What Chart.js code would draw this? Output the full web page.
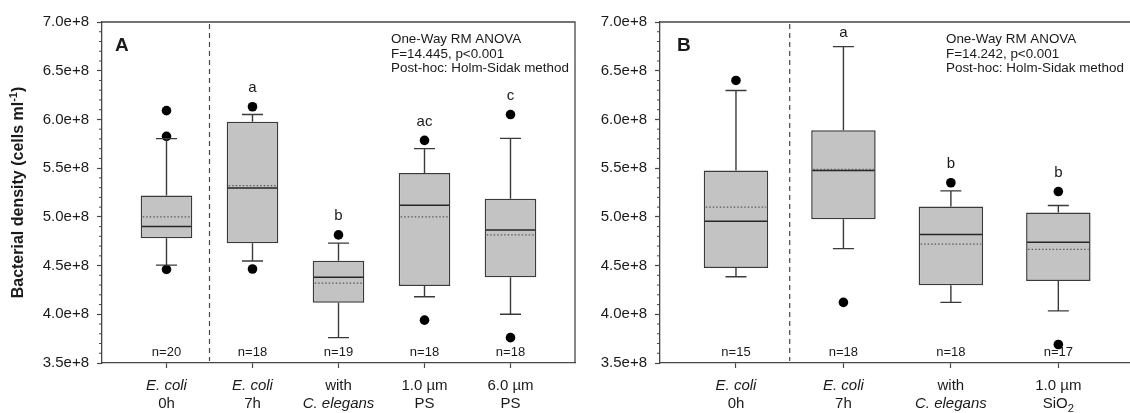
<!DOCTYPE html>
<html><head><meta charset="utf-8">
<script src="https://cdn.jsdelivr.net/npm/chart.js@4.4.1/dist/chart.umd.min.js"></script>
<style>
html,body{margin:0;padding:0;background:#fff;overflow:hidden;width:1130px;height:413px;position:relative;}
#wa{position:absolute;left:0;top:0;width:580px;height:413px;}
#wb{position:absolute;left:580px;top:0;width:570px;height:413px;}
canvas{display:block;}
</style></head><body>
<div id="wa"><canvas id="ca" width="580" height="413"></canvas></div>
<div id="wb"><canvas id="cb" width="570" height="413"></canvas></div>
<script>
// ---------- data (cells per ml) ----------
const yTickValues = [3.5e8, 4.0e8, 4.5e8, 5.0e8, 5.5e8, 6.0e8, 6.5e8, 7.0e8];

// Panel A
const categoriesA = ['*E. coli*|0h', '*E. coli*|7h', 'with|*C. elegans*', '1.0 µm|PS', '6.0 µm|PS'];
const whiskerLowA  = [4.505e8, 4.547e8, 3.76e8, 4.18e8, 4.00e8];
const q1A          = [4.78e8, 4.73e8, 4.118e8, 4.29e8, 4.38e8];
const medianA      = [4.90e8, 5.295e8, 4.38e8, 5.12e8, 4.866e8];
const meanA        = [5.00e8, 5.32e8, 4.32e8, 5.00e8, 4.815e8];
const q3A          = [5.22e8, 5.975e8, 4.55e8, 5.45e8, 5.185e8];
const whiskerHighA = [5.803e8, 6.05e8, 4.73e8, 5.70e8, 5.806e8];
const outliersA    = [[6.09e8, 5.826e8, 4.46e8], [6.13e8, 4.465e8], [4.815e8], [5.785e8, 3.94e8], [6.05e8, 3.76e8]];
const nA           = [20, 18, 19, 18, 18];
const lettersA     = ['', 'a', 'b', 'ac', 'c'];
const statsA       = ['One-Way RM ANOVA', 'F=14.445, p<0.001', 'Post-hoc: Holm-Sidak method'];

// Panel B
const categoriesB = ['*E. coli*|0h', '*E. coli*|7h', 'with|*C. elegans*', '1.0 µm|SiO_2'];
const whiskerLowB  = [4.385e8, 4.674e8, 4.122e8, 4.035e8];
const q1B          = [4.475e8, 4.976e8, 4.297e8, 4.341e8];
const medianB      = [4.955e8, 5.476e8, 4.82e8, 4.739e8];
const meanB        = [5.10e8, 5.487e8, 4.72e8, 4.667e8];
const q3B          = [5.476e8, 5.89e8, 5.106e8, 5.044e8];
const whiskerHighB = [6.297e8, 6.747e8, 5.267e8, 5.116e8];
const outliersB    = [[6.40e8], [4.122e8], [5.35e8], [5.26e8, 3.69e8]];
const nB           = [15, 18, 18, 17];
const lettersB     = ['', 'a', 'b', 'b'];
const statsB       = ['One-Way RM ANOVA', 'F=14.242, p<0.001', 'Post-hoc: Holm-Sidak method'];

// ---------- style ----------
const FONT = 'Arial, "Liberation Sans", Helvetica, sans-serif';
const AXIS = '#474747';
const TEXT = '#1a1a1a';
const BOX_FRAC = 0.6;
const CAP_W = 21;

function drawRich(ctx, str, cx, cy, size) {
  // '*...*' italic, '_x' subscript
  const segs = [];
  let italic = false, buf = '';
  for (let i = 0; i < str.length; i++) {
    const ch = str[i];
    if (ch === '*') { if (buf) segs.push({t: buf, it: italic, sub: false}); buf = ''; italic = !italic; }
    else if (ch === '_') { if (buf) segs.push({t: buf, it: italic, sub: false}); buf = ''; segs.push({t: str[i + 1], it: italic, sub: true}); i++; }
    else buf += ch;
  }
  if (buf) segs.push({t: buf, it: italic, sub: false});
  const fontOf = s => (s.it ? 'italic ' : '') + (s.sub ? size * 0.75 : size) + 'px ' + FONT;
  let total = 0;
  segs.forEach(s => { ctx.font = fontOf(s); s.w = ctx.measureText(s.t).width; total += s.w; });
  let x = cx - total / 2;
  ctx.textAlign = 'left'; ctx.textBaseline = 'middle';
  segs.forEach(s => { ctx.font = fontOf(s); ctx.fillText(s.t, x, s.sub ? cy + size * 0.3 : cy); x += s.w; });
}

function makePlugin(o) {
  return {
    id: 'boxExtras',
    afterDatasetsDraw(chart) {
      const ctx = chart.ctx, xs = chart.scales.x, ys = chart.scales.y, a = chart.chartArea;
      ctx.save();
      // top and right frame
      ctx.strokeStyle = AXIS; ctx.lineWidth = 1.3;
      ctx.beginPath(); ctx.moveTo(a.left, a.top); ctx.lineTo(a.right, a.top); ctx.lineTo(a.right, a.bottom); ctx.stroke();
      // dashed divider between time 0 and the rest
      const xd = xs.getPixelForValue(0.5);
      ctx.setLineDash([5, 4]); ctx.lineWidth = 1.2;
      ctx.beginPath(); ctx.moveTo(xd, a.top + 2); ctx.lineTo(xd, a.bottom - 2); ctx.stroke();
      ctx.setLineDash([]);
      o.cats.forEach((c, i) => {
        const xc = xs.getPixelForValue(i);
        const xl = xs.getPixelForValue(i - BOX_FRAC / 2), xr = xs.getPixelForValue(i + BOX_FRAC / 2);
        const yq1 = ys.getPixelForValue(o.q1[i]), yq3 = ys.getPixelForValue(o.q3[i]);
        const ylo = ys.getPixelForValue(o.lo[i]), yhi = ys.getPixelForValue(o.hi[i]);
        ctx.strokeStyle = '#3a3a3a'; ctx.lineWidth = 1.4;
        ctx.beginPath();
        ctx.moveTo(xc, yq3); ctx.lineTo(xc, yhi);
        ctx.moveTo(xc - CAP_W / 2, yhi); ctx.lineTo(xc + CAP_W / 2, yhi);
        ctx.moveTo(xc, yq1); ctx.lineTo(xc, ylo);
        ctx.moveTo(xc - CAP_W / 2, ylo); ctx.lineTo(xc + CAP_W / 2, ylo);
        ctx.stroke();
        // median
        const ym = ys.getPixelForValue(o.med[i]);
        ctx.strokeStyle = '#262626'; ctx.lineWidth = 1.5;
        ctx.beginPath(); ctx.moveTo(xl + 1, ym); ctx.lineTo(xr - 1, ym); ctx.stroke();
        // mean (dotted)
        const ymn = ys.getPixelForValue(o.mean[i]);
        ctx.strokeStyle = '#5a5a5a'; ctx.lineWidth = 1.2; ctx.setLineDash([1.5, 2]);
        ctx.beginPath(); ctx.moveTo(xl + 2, ymn); ctx.lineTo(xr - 2, ymn); ctx.stroke();
        ctx.setLineDash([]);
        // n label
        ctx.fillStyle = TEXT; ctx.font = '13px ' + FONT; ctx.textAlign = 'center'; ctx.textBaseline = 'middle';
        ctx.fillText('n=' + o.n[i], xc, a.bottom - 11);
        // significance letter
        if (o.letters[i]) {
          const outs = o.outliers[i].filter(v => v > o.hi[i]);
          let top = yhi, off = 14;
          if (outs.length) { top = ys.getPixelForValue(Math.max(...outs)); off = 19; }
          ctx.font = '15px ' + FONT;
          ctx.fillText(o.letters[i], xc, top - off);
        }
      });
      ctx.restore();
    },
    afterDraw(chart) {
      const ctx = chart.ctx, xs = chart.scales.x, ys = chart.scales.y, a = chart.chartArea;
      ctx.save();
      // minor ticks every 0.1e8
      ctx.strokeStyle = AXIS; ctx.lineWidth = 1;
      ctx.beginPath();
      for (let k = 35; k <= 70; k++) {
        if (k % 5 === 0) continue;
        const y = ys.getPixelForValue(k * 1e7);
        ctx.moveTo(a.left - 3, y); ctx.lineTo(a.left, y);
      }
      ctx.stroke();
      // category labels
      ctx.fillStyle = TEXT;
      o.cats.forEach((c, i) => {
        const xc = xs.getPixelForValue(i);
        const lines = c.split('|');
        drawRich(ctx, lines[0], xc, 386, 15);
        drawRich(ctx, lines[1], xc, 404, 15);
      });
      // stats text
      ctx.font = '13.4px ' + FONT; ctx.textAlign = 'left'; ctx.textBaseline = 'middle';
      o.stats.forEach((s, k) => ctx.fillText(s, o.statsX, 39.5 + k * 14.5));
      // panel letter
      ctx.font = 'bold 19px ' + FONT;
      ctx.fillText(o.panel, o.panelX, 46);
      // y title
      if (o.yTitle) {
        ctx.translate(19, (a.top + a.bottom) / 2);
        ctx.rotate(-Math.PI / 2);
        const main = 'Bacterial density (cells ml', sup = '-1', end = ')';
        ctx.font = 'bold 16px ' + FONT; const w1 = ctx.measureText(main).width, w3 = ctx.measureText(end).width;
        ctx.font = 'bold 11px ' + FONT; const w2 = ctx.measureText(sup).width;
        let x = -(w1 + w2 + w3) / 2;
        ctx.font = 'bold 16px ' + FONT; ctx.fillText(main, x, 0); x += w1;
        ctx.font = 'bold 11px ' + FONT; ctx.fillText(sup, x, -5); x += w2;
        ctx.font = 'bold 16px ' + FONT; ctx.fillText(end, x, 0);
      }
      ctx.restore();
    }
  };
}

function makeChart(id, o) {
  const boxes = o.q1.map((v, i) => ({x: i, y: [v, o.q3[i]]}));
  const pts = [];
  o.outliers.forEach((arr, i) => arr.forEach(v => pts.push({x: i, y: v})));
  return new Chart(document.getElementById(id), {
    type: 'bar',
    data: {
      datasets: [
        {type: 'bar', data: boxes, backgroundColor: '#c3c3c3', borderColor: '#3a3a3a', borderWidth: 1.5,
         borderSkipped: false, barPercentage: BOX_FRAC, categoryPercentage: 1.0, order: 2},
        {type: 'scatter', data: pts, pointRadius: 4.8, pointBackgroundColor: '#000', pointBorderWidth: 0, order: 1}
      ]
    },
    options: {
      responsive: false, animation: false,
      layout: {padding: {top: 22, right: o.padRight, bottom: 0, left: 0}},
      plugins: {legend: {display: false}, tooltip: {enabled: false}},
      scales: {
        x: {
          type: 'linear', min: o.xMin, max: o.xMax, offset: false,
          afterBuildTicks: s => { s.ticks = o.cats.map((c, i) => ({value: i})); },
          afterFit: s => { s.height = 50; },
          ticks: {display: false},
          grid: {display: true, drawOnChartArea: false, drawTicks: true, tickLength: 5, tickColor: AXIS, tickWidth: 1.2, offset: false},
          border: {display: true, color: AXIS, width: 1.3}
        },
        y: {
          type: 'linear', min: 3.5e8, max: 7.0e8,
          afterBuildTicks: s => { s.ticks = yTickValues.map(v => ({value: v})); },
          afterFit: s => { s.width = o.yWidth; },
          ticks: {callback: v => (v / 1e8).toFixed(1) + 'e+8', font: {family: FONT, size: 15}, color: TEXT, padding: 8},
          grid: {drawOnChartArea: false, drawTicks: true, tickLength: 5, tickColor: AXIS, tickWidth: 1.2},
          border: {display: true, color: AXIS, width: 1.3}
        }
      }
    },
    plugins: [makePlugin(o)]
  });
}

makeChart('ca', {
  cats: categoriesA, lo: whiskerLowA, q1: q1A, med: medianA, mean: meanA, q3: q3A, hi: whiskerHighA,
  outliers: outliersA, n: nA, letters: lettersA, stats: statsA,
  xMin: -0.75, xMax: 4.75, yWidth: 102, padRight: 5, statsX: 391, panel: 'A', panelX: 115, yTitle: true
});
makeChart('cb', {
  cats: categoriesB, lo: whiskerLowB, q1: q1B, med: medianB, mean: meanB, q3: q3B, hi: whiskerHighB,
  outliers: outliersB, n: nB, letters: lettersB, stats: statsB,
  xMin: -0.707, xMax: 3.76, yWidth: 80, padRight: 10, statsX: 366, panel: 'B', panelX: 97, yTitle: false
});
</script>
</body></html>
